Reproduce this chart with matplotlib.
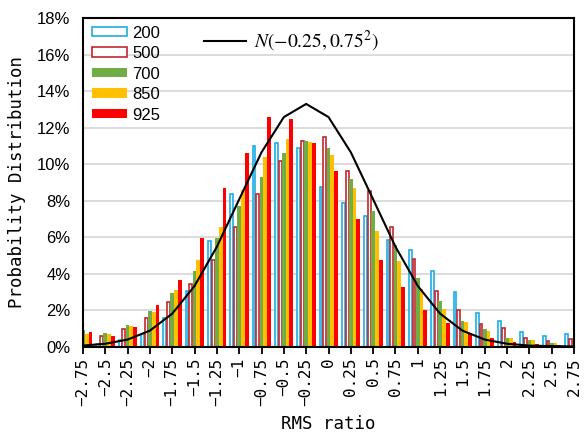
import numpy as np
import matplotlib.pyplot as plt
from matplotlib.patches import Patch
from matplotlib.lines import Line2D

# categories of the RMS ratio (bin centres)
ratio = [-2.75, -2.5, -2.25, -2, -1.75, -1.5, -1.25, -1, -0.75, -0.5, -0.25, 0,
         0.25, 0.5, 0.75, 1, 1.25, 1.5, 1.75, 2, 2.25, 2.5, 2.75]

# probability distribution (%) per level
p200 = [0.1, 0.15, 0.35, 0.68, 1.56, 3.03, 5.78, 8.37, 10.98, 11.14, 10.87, 8.73,
        7.86, 7.15, 5.84, 5.31, 4.13, 3.0, 1.85, 1.4, 0.77, 0.58, 0.67]
p500 = [0.3, 0.57, 0.95, 1.55, 2.45, 3.45, 4.76, 6.58, 8.37, 10.16, 11.28, 11.47,
        9.64, 8.52, 6.53, 4.8, 3.05, 2.0, 1.25, 1.0, 0.49, 0.31, 0.4]
p700 = [0.93, 0.72, 1.16, 1.94, 2.94, 4.16, 5.97, 7.73, 9.28, 10.6, 11.25, 10.88,
        9.19, 7.42, 5.55, 3.75, 2.49, 1.41, 0.95, 0.46, 0.33, 0.18, 0.15]
p850 = [0.67, 0.67, 1.1, 1.9, 3.12, 4.77, 6.58, 8.6, 10.38, 11.37, 11.23, 10.52,
        8.68, 6.33, 4.68, 3.18, 2.03, 1.36, 0.87, 0.49, 0.33, 0.2, 0.1]
p925 = [0.77, 0.57, 1.05, 2.3, 3.67, 5.95, 8.68, 10.62, 12.6, 12.46, 11.16, 9.64,
        7.0, 4.73, 3.25, 2.02, 1.3, 0.67, 0.46, 0.27, 0.15, 0.1, 0.05]

# reference normal curve N(-0.25, 0.75^2) read at the bin centres (%)
normal = [0.05, 0.15, 0.38, 0.87, 1.80, 3.32, 5.47, 8.07, 10.65, 12.58, 13.30, 12.58,
          10.65, 8.07, 5.47, 3.32, 1.80, 0.87, 0.38, 0.15, 0.05, 0.02, 0.004]

levels = ['200', '500', '700', '850', '925']

plt.rcParams['mathtext.fontset'] = 'stix'

fig = plt.figure(figsize=(5.84, 4.34), dpi=100)
ax = fig.add_axes([0.142, 0.2016, 0.841, 0.7564])

x = np.array(ratio)
w = 0.042
series = [p200, p500, p700, p850, p925]
styles = [dict(facecolor='white', edgecolor='#1CADE4', linewidth=1.2),
          dict(facecolor='white', edgecolor='#C0282D', linewidth=1.2),
          dict(facecolor='#70AD47', edgecolor='none'),
          dict(facecolor='#FFC000', edgecolor='none'),
          dict(facecolor='#FF0000', edgecolor='none')]

for i, (vals, st) in enumerate(zip(series, styles)):
    off = (i - 2) * w
    bw = w - 0.01 if st['edgecolor'] != 'none' else w
    ax.bar(x + off, vals, width=bw, zorder=2, **st)

ax.plot(x, normal, color='black', linewidth=1.5, zorder=3)

ax.set_xlim(-2.75, 2.75)
ax.set_ylim(0, 18)
ax.set_yticks(range(0, 19, 2))
ax.set_yticklabels([f'{v}%' for v in range(0, 19, 2)], fontsize=12, family='Liberation Sans')
ax.set_xticks(ratio)
ax.set_xticklabels([f'{v:g}'.replace('-', '\u2212') for v in ratio], rotation=90,
                   fontsize=11.5, family='DejaVu Sans Mono')
ax.tick_params(axis='y', length=0, pad=9)
ax.tick_params(axis='x', length=5, width=1.3, direction='out', pad=3)
ax.yaxis.grid(True, color='#D9D9D9', linewidth=1.3, zorder=0)
ax.set_axisbelow(True)
for sp in ax.spines.values():
    sp.set_color('black')
    sp.set_linewidth(1.5)

ax.set_ylabel('Probability Distribution', family='DejaVu Sans Mono', fontsize=12.5, labelpad=8)
ax.set_xlabel('RMS ratio', family='DejaVu Sans Mono', fontsize=12.5, labelpad=7)

handles = [Patch(**st) for st in styles]
leg1 = ax.legend(handles, levels, loc='upper left', bbox_to_anchor=(0.005, 0.998),
                 frameon=False, prop={'family': 'Liberation Sans', 'size': 12},
                 handlelength=2.1, handleheight=0.5, handletextpad=0.3, labelspacing=0.33,
                 borderaxespad=0)
ax.add_artist(leg1)

ax.legend([Line2D([], [], color='black', linewidth=1.5)], [r'$N(-0.25, 0.75^2)$'],
          loc='upper left', bbox_to_anchor=(0.23, 0.99), frameon=False,
          prop={'size': 14}, handlelength=2.2, handletextpad=0.4, borderaxespad=0)

fig.savefig('out.png', dpi=100)
